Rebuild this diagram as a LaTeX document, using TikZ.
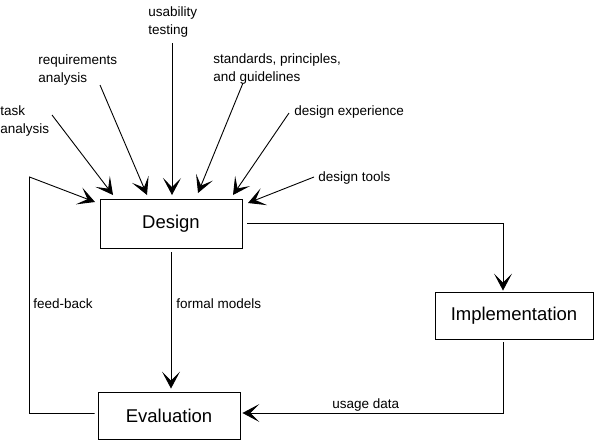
\documentclass[tikz,border=0pt]{standalone}
\usepackage{fontspec}
\setmainfont{Liberation Sans}
\usetikzlibrary{arrows.meta,calc}
\begin{document}
\begin{tikzpicture}[x=1pt,y=-1pt,
  line width=0.9pt,
  box/.style={draw,line width=0.9pt,inner sep=0,font=\fontsize{18.5}{22}\selectfont},
  lbl/.style={inner sep=0,font=\fontsize{13.5}{18}\selectfont,align=left},
  arr/.style={-{Stealth[length=17pt,width=18pt,inset=9pt]}}]
\useasboundingbox (0,0) rectangle (594,440);
% boxes
\node[box,minimum width=142pt,minimum height=49pt] (design) at (171,223.5) {Design};
\node[box,minimum width=158pt,minimum height=47pt] (impl) at (514,315.5) {Implementation};
\node[box,minimum width=142pt,minimum height=47pt] (eval) at (169,415.5) {Evaluation};
% labels
\node[lbl,anchor=north west] (usab) at (148,3) {\strut usability\\\strut testing};
\node[lbl,anchor=north west] (req) at (38,51.4) {\strut requirements\\\strut analysis};
\node[lbl,anchor=north west] (task) at (0,102.4) {\strut task\\\strut analysis};
\node[lbl,anchor=north west] (std) at (213,50.4) {\strut standards, principles,\\\strut and guidelines};
\node[lbl,anchor=base west] (exp) at (294,115) {design experience};
\node[lbl,anchor=base west] (tools) at (318,181) {design tools};
\node[lbl,anchor=base west] (fbl) at (33,308) {feed-back};
\node[lbl,anchor=base west] (fml) at (176,308) {formal models};
\node[lbl,anchor=base west] (usage) at (332,408) {usage data};
% input arrows
\coordinate (s1) at (52,115);  \coordinate (t1) at (113,195);
\coordinate (s2) at (100,85);  \coordinate (t2) at (147,195);
\coordinate (s3) at (172,43);  \coordinate (t3) at (172,195);
\coordinate (s4) at (243,83);  \coordinate (t4) at (198,193);
\coordinate (s5) at (289,113); \coordinate (t5) at (233,195);
\coordinate (s6) at (314,177); \coordinate (t6) at (248,203);
\draw[arr] (s1) -- (t1);
\draw[arr] (s2) -- (t2);
\draw[arr] (s3) -- (t3);
\draw[arr] (s4) -- (t4);
\draw[arr] (s5) -- (t5);
\draw[arr] (s6) -- (t6);
% main flow
\coordinate (j1) at (503,223);
\coordinate (j2) at (503,413);
\draw[arr,shorten >=1pt] ([xshift=5pt]design.east |- j1) -- (j1) -- (j1 |- impl.north);
\draw[arr,shorten <=4pt,shorten >=3pt] (design.south) -- (design.south |- eval.north);
\draw[arr,shorten <=3pt,shorten >=2pt] (j1 |- impl.south) -- (j2) -- (j2 -| eval.east);
% feedback
\coordinate (fb1) at (29.5,413.5);
\coordinate (fb2) at (29.5,177);
\coordinate (fbt) at (95,202);
\draw[arr] ([xshift=-3pt]eval.west |- fb1) -- (fb1) -- (fb2) -- (fbt);
\end{tikzpicture}
\end{document}
